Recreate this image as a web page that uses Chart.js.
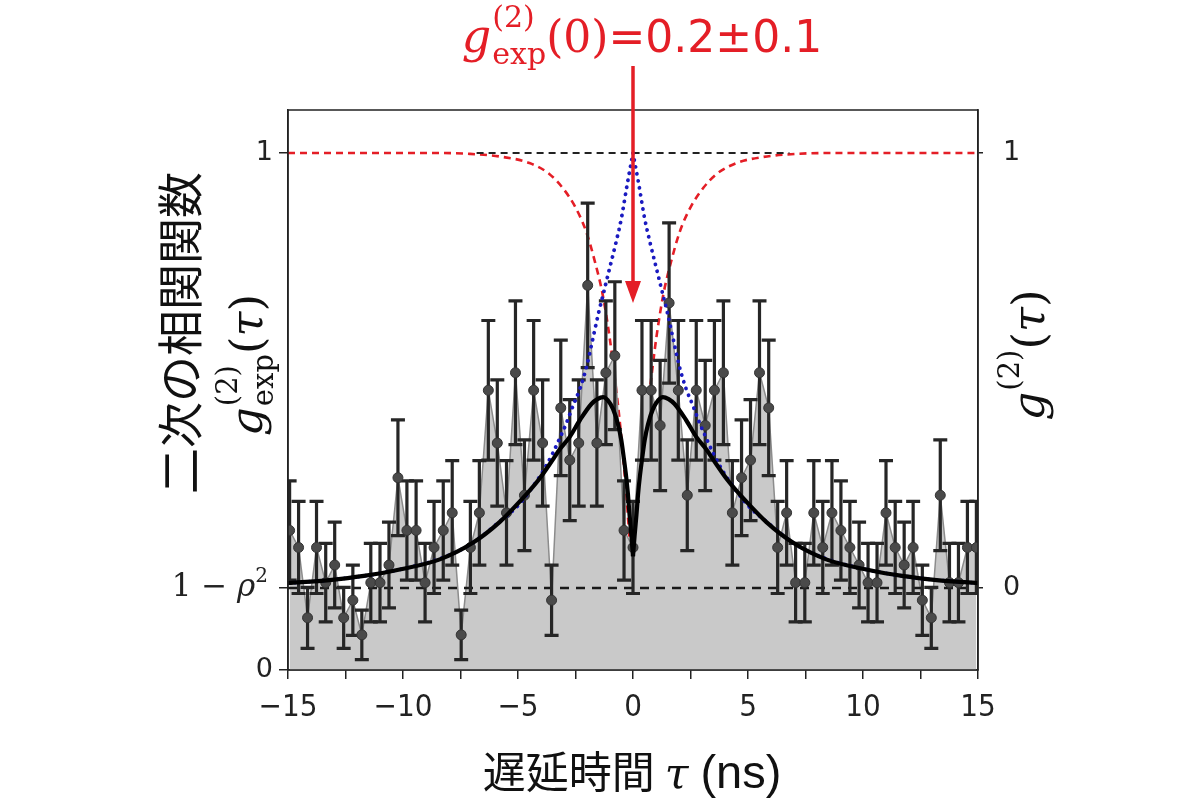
<!DOCTYPE html>
<html><head><meta charset="utf-8">
<script src="https://cdn.jsdelivr.net/npm/chart.js@4.4.1/dist/chart.umd.min.js"></script>
<style>html,body{margin:0;padding:0;background:#fff;}#c{display:block;}</style>
</head><body>
<canvas id="c" width="1200" height="800"></canvas>
<script>
// ---- data ----
const tau = [-14.93,-14.54,-14.15,-13.76,-13.36,-12.97,-12.58,-12.18,-11.79,-11.40,
 -11.00,-10.61,-10.22,-9.83,-9.43,-9.04,-8.65,-8.25,-7.86,-7.47,
 -7.07,-6.68,-6.29,-5.90,-5.50,-5.11,-4.72,-4.32,-3.93,-3.54,
 -3.14,-2.75,-2.36,-1.97,-1.57,-1.18,-0.79,-0.39,0,
 0.39,0.79,1.18,1.57,1.97,2.36,2.75,3.14,3.54,3.93,
 4.32,4.72,5.11,5.50,5.90,6.29,6.68,7.07,7.47,7.86,
 8.25,8.65,9.04,9.43,9.83,10.22,10.61,11.00,11.40,11.79,
 12.18,12.58,12.97,13.36,13.76,14.15,14.54,14.93];
const gExp = [0.270,0.237,0.101,0.237,0.169,0.203,0.101,0.135,0.068,0.169,
 0.169,0.203,0.372,0.270,0.270,0.169,0.237,0.270,0.304,0.068,
 0.237,0.304,0.541,0.439,0.304,0.575,0.338,0.541,0.439,0.135,
 0.507,0.406,0.439,0.744,0.439,0.575,0.608,0.270,0.237,
 0.541,0.541,0.473,0.710,0.541,0.338,0.541,0.473,0.541,0.575,
 0.304,0.372,0.406,0.575,0.507,0.237,0.304,0.169,0.169,0.304,
 0.237,0.304,0.270,0.237,0.203,0.169,0.169,0.304,0.237,0.203,
 0.237,0.135,0.101,0.338,0.169,0.169,0.237,0.237];
const gErr = [0.096,0.089,0.059,0.089,0.076,0.083,0.059,0.068,0.048,0.076,
 0.076,0.083,0.112,0.096,0.096,0.076,0.089,0.096,0.101,0.048,
 0.089,0.101,0.135,0.122,0.101,0.139,0.107,0.135,0.122,0.068,
 0.131,0.117,0.122,0.159,0.122,0.139,0.143,0.096,0.089,
 0.135,0.135,0.126,0.155,0.135,0.107,0.135,0.126,0.135,0.139,
 0.101,0.112,0.117,0.139,0.131,0.089,0.101,0.076,0.076,0.101,
 0.089,0.101,0.096,0.089,0.083,0.076,0.076,0.101,0.089,0.083,
 0.089,0.068,0.059,0.107,0.076,0.076,0.089,0.089];

// fitted curves (left-axis units) at |tau|
const blackTau  = [0,0.07,0.15,0.22,0.3,0.4,0.51,0.65,0.87,1.1,1.3,1.55,1.8,2.3,2.75,3.2,3.5,4.1,4.9,5.8,7.0,8.4,10.3,11.7,13.2,15];
const blackVals = [0.22,0.26,0.30,0.34,0.375,0.41,0.445,0.475,0.505,0.522,0.528,0.524,0.515,0.484,0.451,0.426,0.406,0.368,0.327,0.286,0.245,0.214,0.193,0.182,0.174,0.168];
const blueTau   = [0,0.25,0.5,0.75,1.0,1.25,1.5,1.75,2.0,2.3,2.6,2.9,3.2,3.5,4.0,4.5,5.0,5.8,7.0,8.4,10.3,11.7,13.2,15];
const blueVals  = [1.0,0.94,0.875,0.825,0.78,0.735,0.69,0.64,0.59,0.545,0.512,0.477,0.447,0.418,0.378,0.346,0.318,0.287,0.245,0.215,0.193,0.182,0.174,0.168];
// ideal g2 (right-axis units)
const redTau  = [0,0.3,0.57,0.88,1.0,1.32,1.68,2.04,2.5,3.06,3.64,4.5,5.67,7.1,8.5,15];
const redVals = [0,0.22,0.38,0.52,0.57,0.675,0.755,0.82,0.875,0.92,0.952,0.977,0.991,0.998,1,1];

const oneMinusRho2 = 0.1586;           // 1-ρ² on left axis
const leftTicks = [0, oneMinusRho2, 1];
const leftTickLabels = ['0', '', '1'];
const rightTicks = [0, 1];
const rightTickLabels = ['0', '1'];
const xTicks = [-15,-12.5,-10,-7.5,-5,-2.5,0,2.5,5,7.5,10,12.5,15];
const xTickLabels = ['\u221215','','\u221210','','\u22125','','0','','5','','10','','15'];

// ---- helpers ----
const pts = tau.map((t,i)=>({x:t,y:gExp[i]}));
function halves(ts, vs){
  const right = ts.map((t,i)=>({x:t,y:vs[i]}));
  const left = ts.map((t,i)=>({x:-t,y:vs[i]})).reverse();
  return [left,right];
}
const [blackL, blackR] = halves(blackTau, blackVals);
const [blueL, blueR] = halves(blueTau, blueVals);
const [redL, redR] = halves(redTau, redVals);

const RED = '#e41e26';
const SERIF = '"DejaVu Serif", "Liberation Serif", serif';
const CJK = '"Noto Sans CJK JP", sans-serif';

function measureRuns(ctx, runs){
  let w = 0;
  runs.forEach(r=>{
    ctx.font = r.font;
    if (r.pair){ r.w = Math.max(ctx.measureText(r.sup).width, ctx.measureText(r.sub).width); }
    else r.w = ctx.measureText(r.t).width;
    w += r.w + (r.kern||0);
  });
  return w;
}
function drawRuns(ctx, runs, x, y){
  let cx = x;
  runs.forEach(r=>{
    ctx.font = r.font;
    if (r.pair){
      if (r.sup) ctx.fillText(r.sup, cx, y + r.supDy);
      if (r.sub) ctx.fillText(r.sub, cx, y + r.subDy);
    } else ctx.fillText(r.t, cx, y + (r.dy||0));
    cx += r.w + (r.kern||0);
  });
}

const errorBars = {
  id:'errorBars',
  beforeDatasetDraw(chart, args){
    if (chart.data.datasets[args.index].label !== 'points') return;
    const {ctx, chartArea:a} = chart;
    const xs = chart.scales.x, ys = chart.scales.y;
    ctx.save();
    ctx.beginPath(); ctx.rect(a.left, a.top, a.right-a.left, a.bottom-a.top); ctx.clip();
    ctx.strokeStyle = '#262626'; ctx.lineWidth = 3.2; ctx.lineCap = 'butt';
    tau.forEach((t,i)=>{
      const px = xs.getPixelForValue(t);
      const yt = ys.getPixelForValue(gExp[i] + gErr[i]);
      const yb = ys.getPixelForValue(gExp[i] - gErr[i]);
      ctx.beginPath();
      ctx.moveTo(px, yb); ctx.lineTo(px, yt);
      ctx.moveTo(px-7, yt); ctx.lineTo(px+7, yt);
      ctx.moveTo(px-7, yb); ctx.lineTo(px+7, yb);
      ctx.stroke();
    });
    ctx.restore();
  }
};

const decorations = {
  id:'decorations',
  afterDraw(chart){
    const {ctx, chartArea:a} = chart;
    const xs = chart.scales.x, ys = chart.scales.y;
    ctx.save();
    // frame
    ctx.strokeStyle = '#222'; ctx.lineWidth = 1.5;
    ctx.strokeRect(a.left, a.top, a.right-a.left, a.bottom-a.top);

    ctx.textBaseline = 'alphabetic'; ctx.textAlign = 'left';
    // 1 − ρ² tick label
    ctx.fillStyle = '#222';
    const rhoRuns = [
      {t:'1 \u2212 ', font:'31px '+SERIF},
      {t:'\u03C1', font:'italic 31px '+SERIF},
      {t:'2', font:'20px '+SERIF, dy:-14}
    ];
    const rw = measureRuns(ctx, rhoRuns);
    drawRuns(ctx, rhoRuns, a.left - 20 - rw, ys.getPixelForValue(oneMinusRho2) + 8);

    // red annotation
    ctx.fillStyle = RED;
    const ann = [
      {t:'g', font:'italic 46px '+SERIF, kern:1},
      {pair:true, sup:'(2)', sub:'exp', font:'30px '+SERIF, supDy:-25, subDy:12},
      {t:'(0)', font:'44px '+SERIF},
      {t:'=0.2\u00B10.1', font:'44px "DejaVu Sans", sans-serif'}
    ];
    const aw = measureRuns(ctx, ann);
    drawRuns(ctx, ann, 642 - aw/2, 52);

    // red arrow
    const x0 = xs.getPixelForValue(0);
    ctx.strokeStyle = RED; ctx.lineWidth = 3.5;
    ctx.beginPath(); ctx.moveTo(x0, 66); ctx.lineTo(x0, 284); ctx.stroke();
    ctx.beginPath(); ctx.moveTo(x0-8, 281); ctx.lineTo(x0+8, 281); ctx.lineTo(x0, 303); ctx.closePath(); ctx.fill();

    // left title (CJK)
    ctx.fillStyle = '#111';
    ctx.save();
    ctx.translate(180, 333); ctx.rotate(-Math.PI/2);
    ctx.font = '46px '+CJK; ctx.textAlign = 'center'; ctx.textBaseline = 'middle';
    ctx.fillText('二次の相関関数', 0, 0);
    ctx.restore();

    // left math label g_exp^(2)(τ)
    ctx.save();
    ctx.translate(262, 365); ctx.rotate(-Math.PI/2);
    ctx.textAlign = 'left'; ctx.textBaseline = 'alphabetic';
    const gl = [
      {t:'g', font:'italic 45px '+SERIF, kern:1},
      {pair:true, sup:'(2)', sub:'exp', font:'29px '+SERIF, supDy:-25, subDy:11},
      {t:'(', font:'45px '+SERIF},
      {t:'\u03C4', font:'italic 45px '+SERIF},
      {t:')', font:'45px '+SERIF}
    ];
    const glw = measureRuns(ctx, gl);
    drawRuns(ctx, gl, -glw/2, 0);
    ctx.restore();

    // right math label g^(2)(τ)
    ctx.save();
    ctx.translate(1044, 355); ctx.rotate(-Math.PI/2);
    ctx.textAlign = 'left'; ctx.textBaseline = 'alphabetic';
    const gr = [
      {t:'g', font:'italic 45px '+SERIF, kern:1},
      {pair:true, sup:'(2)', sub:'', font:'29px '+SERIF, supDy:-25, subDy:0},
      {t:'(', font:'45px '+SERIF},
      {t:'\u03C4', font:'italic 45px '+SERIF},
      {t:')', font:'45px '+SERIF}
    ];
    const grw = measureRuns(ctx, gr);
    drawRuns(ctx, gr, -grw/2, 0);
    ctx.restore();

    // x title
    ctx.textAlign = 'left'; ctx.textBaseline = 'alphabetic';
    const xt = [
      {t:'遅延時間', font:'43px '+CJK, kern:10},
      {t:'\u03C4', font:'italic 43px '+SERIF, kern:12},
      {t:'(ns)', font:'47px "Liberation Sans", Arial, sans-serif'}
    ];
    const xw = measureRuns(ctx, xt);
    drawRuns(ctx, xt, 632 - xw/2, 788);
    ctx.restore();
  }
};

const tickFont = {family:'"DejaVu Sans", sans-serif', size:27};
new Chart(document.getElementById('c'), {
  type:'line',
  data:{datasets:[
    {label:'redL', data:redL, yAxisID:'y2', borderColor:RED, borderWidth:2.6, borderDash:[7,5], pointRadius:0, fill:false, cubicInterpolationMode:'monotone', order:8},
    {label:'redR', data:redR, yAxisID:'y2', borderColor:RED, borderWidth:2.6, borderDash:[7,5], pointRadius:0, fill:false, cubicInterpolationMode:'monotone', order:8},
    {label:'fill', data:pts, yAxisID:'y', borderColor:'#8c8c8c', borderWidth:1.5, backgroundColor:'#c9c9c9', fill:'origin', pointRadius:0, tension:0, order:6},
    {label:'base', data:[{x:-15,y:0},{x:15,y:0}], yAxisID:'y2', borderColor:'#1a1a1a', borderWidth:2.6, borderDash:[9,7], pointRadius:0, fill:false, order:5},
    {label:'points', data:pts, yAxisID:'y', showLine:false, pointRadius:5, pointBackgroundColor:'#4a4a4a', pointBorderColor:'#333', pointBorderWidth:1, fill:false, order:4},
    {label:'top', data:[{x:-6.8,y:1},{x:6.8,y:1}], yAxisID:'y2', borderColor:'#222', borderWidth:2, borderDash:[7,5], pointRadius:0, fill:false, order:3},
    {label:'blueL', data:blueL, yAxisID:'y', borderColor:'#1a1ac0', borderWidth:3.8, borderDash:[0.1,7], borderCapStyle:'round', pointRadius:0, fill:false, cubicInterpolationMode:'monotone', order:2},
    {label:'blueR', data:blueR, yAxisID:'y', borderColor:'#1a1ac0', borderWidth:3.8, borderDash:[0.1,7], borderCapStyle:'round', pointRadius:0, fill:false, cubicInterpolationMode:'monotone', order:2},
    {label:'blackL', data:blackL, yAxisID:'y', borderColor:'#000', borderWidth:4.2, pointRadius:0, fill:false, cubicInterpolationMode:'monotone', order:1},
    {label:'blackR', data:blackR, yAxisID:'y', borderColor:'#000', borderWidth:4.2, pointRadius:0, fill:false, cubicInterpolationMode:'monotone', order:1}
  ]},
  options:{
    responsive:false, animation:false,
    layout:{padding:{top:110,left:0,right:0,bottom:0}},
    plugins:{legend:{display:false}, tooltip:{enabled:false}},
    scales:{
      x:{type:'linear', min:-15, max:15, position:'bottom',
        afterFit(s){ s.height = 130; },
        afterBuildTicks(s){ s.ticks = xTicks.map(v=>({value:v})); },
        ticks:{autoSkip:false, maxRotation:0, minRotation:0, padding:10, color:'#222',
          font:{family:'"Liberation Sans Narrow", "DejaVu Sans Condensed", Arial, sans-serif', size:31},
          callback:(v,i)=>xTickLabels[i]},
        grid:{drawOnChartArea:false, drawTicks:true, tickLength:9, color:'#222', lineWidth:1.5},
        border:{display:true, color:'#222', width:1.5}},
      y:{type:'linear', position:'left', min:0, max:1.0832,
        afterFit(s){ s.width = 288; },
        afterBuildTicks(s){ s.ticks = leftTicks.map(v=>({value:v})); },
        ticks:{autoSkip:false, padding:6, color:'#222', font:tickFont, callback:(v,i)=>leftTickLabels[i]},
        grid:{drawOnChartArea:false, drawTicks:true, tickLength:9, color:'#222', lineWidth:1.5},
        border:{display:true, color:'#222', width:1.5}},
      y2:{type:'linear', position:'right', min:-0.1885, max:1.0989,
        afterFit(s){ s.width = 222; },
        afterBuildTicks(s){ s.ticks = rightTicks.map(v=>({value:v})); },
        ticks:{autoSkip:false, padding:20, color:'#222', font:tickFont, callback:(v,i)=>rightTickLabels[i]},
        grid:{drawOnChartArea:false, drawTicks:true, tickLength:5, color:'#222', lineWidth:1.5},
        border:{display:true, color:'#222', width:1.5}}
    }
  },
  plugins:[errorBars, decorations]
});
</script>
</body></html>
